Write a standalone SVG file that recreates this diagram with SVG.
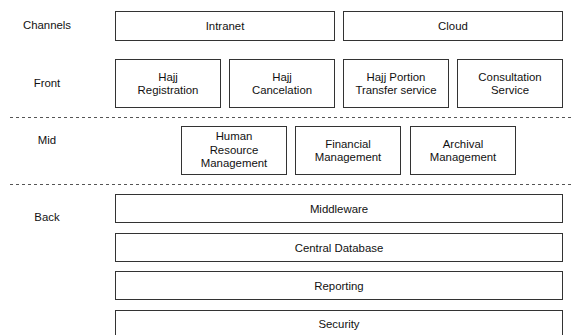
<svg xmlns="http://www.w3.org/2000/svg" width="573" height="335" viewBox="0 0 573 335">
  <style>
    .box { fill: #ffffff; stroke: #333333; stroke-width: 1; }
    .lbl { font-family: "Liberation Sans", Arial, sans-serif; font-size: 11.4px; fill: #111111; text-anchor: middle; dominant-baseline: central; }
    .sep { stroke: #555555; stroke-width: 1; stroke-dasharray: 3 3; fill: none; }
  </style>
  <rect width="573" height="335" fill="#ffffff"/>

  <!-- layer titles -->
  <g id="layer-labels">
    <text class="lbl" x="47" y="25">Channels</text>
    <text class="lbl" x="47" y="82.5">Front</text>
    <text class="lbl" x="47" y="140">Mid</text>
    <text class="lbl" x="47" y="217">Back</text>
  </g>

  <!-- layer separators -->
  <g id="separators">
    <line class="sep" x1="10" y1="117.5" x2="573" y2="117.5"/>
    <line class="sep" x1="10" y1="184.5" x2="573" y2="184.5"/>
  </g>

  <!-- Channels -->
  <g id="intranet">
    <rect class="box" x="115.5" y="11.5" width="219" height="29"/>
    <text class="lbl" x="225" y="26">Intranet</text>
  </g>
  <g id="cloud">
    <rect class="box" x="343.5" y="11.5" width="219" height="29"/>
    <text class="lbl" x="453" y="26">Cloud</text>
  </g>

  <!-- Front -->
  <g id="hajj-registration">
    <rect class="box" x="115.5" y="59.5" width="105" height="48"/>
    <text class="lbl" x="168" y="76.5">Hajj</text>
    <text class="lbl" x="168" y="90">Registration</text>
  </g>
  <g id="hajj-cancelation">
    <rect class="box" x="229.5" y="59.5" width="105" height="48"/>
    <text class="lbl" x="282" y="76.5">Hajj</text>
    <text class="lbl" x="282" y="90">Cancelation</text>
  </g>
  <g id="hajj-portion-transfer">
    <rect class="box" x="343.5" y="59.5" width="105" height="48"/>
    <text class="lbl" x="396" y="76.5">Hajj Portion</text>
    <text class="lbl" x="396" y="90">Transfer service</text>
  </g>
  <g id="consultation-service">
    <rect class="box" x="457.5" y="59.5" width="105" height="48"/>
    <text class="lbl" x="510" y="76.5">Consultation</text>
    <text class="lbl" x="510" y="90">Service</text>
  </g>

  <!-- Mid -->
  <g id="human-resource-management">
    <rect class="box" x="181.5" y="126.5" width="105" height="48"/>
    <text class="lbl" x="234" y="136">Human</text>
    <text class="lbl" x="234" y="149.5">Resource</text>
    <text class="lbl" x="234" y="163">Management</text>
  </g>
  <g id="financial-management">
    <rect class="box" x="295.5" y="126.5" width="105" height="48"/>
    <text class="lbl" x="348" y="143.5">Financial</text>
    <text class="lbl" x="348" y="157">Management</text>
  </g>
  <g id="archival-management">
    <rect class="box" x="410.5" y="126.5" width="105" height="48"/>
    <text class="lbl" x="463" y="143.5">Archival</text>
    <text class="lbl" x="463" y="157">Management</text>
  </g>

  <!-- Back -->
  <g id="middleware">
    <rect class="box" x="115.5" y="194.5" width="447" height="28"/>
    <text class="lbl" x="339" y="209">Middleware</text>
  </g>
  <g id="central-database">
    <rect class="box" x="115.5" y="233.5" width="447" height="28"/>
    <text class="lbl" x="339" y="248">Central Database</text>
  </g>
  <g id="reporting">
    <rect class="box" x="115.5" y="271.5" width="447" height="28"/>
    <text class="lbl" x="339" y="286">Reporting</text>
  </g>
  <g id="security">
    <rect class="box" x="115.5" y="310.5" width="447" height="28"/>
    <text class="lbl" x="339" y="324">Security</text>
  </g>
</svg>
